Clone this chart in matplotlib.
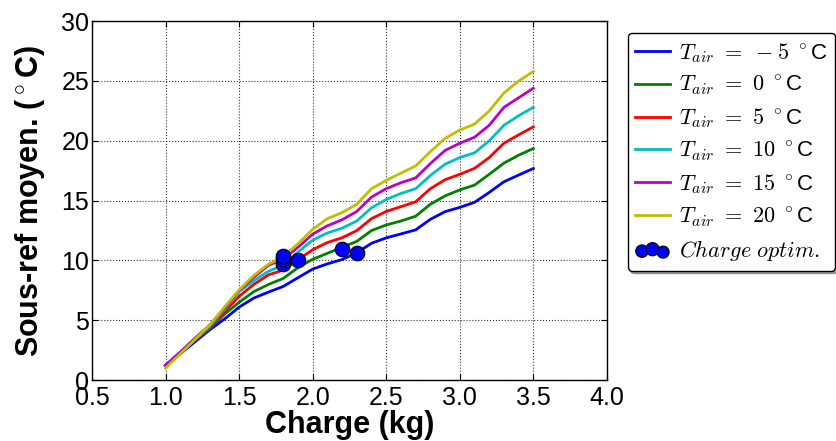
import matplotlib
matplotlib.use("Agg")
import matplotlib.pyplot as plt
import numpy as np

plt.rcParams['font.family'] = ['Liberation Sans', 'DejaVu Sans']
plt.rcParams['mathtext.fontset'] = 'cm'

charge = [1.0, 1.1, 1.2, 1.3, 1.4, 1.5, 1.6, 1.7, 1.8, 1.9, 2.0, 2.1, 2.2,
          2.3, 2.4, 2.5, 2.6, 2.7, 2.8, 2.9, 3.0, 3.1, 3.2, 3.3, 3.4, 3.5]

t_m5 = [1.25, 2.2, 3.2, 4.2, 5.1, 6.1, 6.86, 7.36, 7.83, 8.56, 9.28, 9.72, 10.08,
        10.64, 11.44, 11.89, 12.22, 12.56, 13.44, 14.08, 14.44, 14.86, 15.69, 16.58, 17.14, 17.69]
t_0 = [1.2, 2.25, 3.35, 4.3, 5.5, 6.5, 7.4, 8.0, 8.5, 9.4, 10.1, 10.6, 11.1,
       11.6, 12.5, 12.97, 13.3, 13.7, 14.7, 15.4, 15.9, 16.3, 17.2, 18.14, 18.8, 19.36]
t_5 = [1.2, 2.3, 3.4, 4.4, 5.7, 7.0, 8.0, 8.8, 9.2, 10.05, 10.9, 11.5, 11.9,
       12.5, 13.5, 14.1, 14.5, 14.9, 16.0, 16.75, 17.2, 17.7, 18.6, 19.8, 20.5, 21.17]
t_10 = [1.2, 2.3, 3.45, 4.5, 5.9, 7.4, 8.3, 9.1, 9.6, 10.7, 11.7, 12.3, 12.7,
        13.3, 14.4, 15.1, 15.6, 16.0, 17.1, 18.05, 18.6, 19.0, 20.0, 21.3, 22.1, 22.8]
t_15 = [1.25, 2.35, 3.5, 4.6, 6.0, 7.5, 8.6, 9.6, 10.1, 11.1, 12.2, 12.9, 13.4,
        14.1, 15.3, 16.0, 16.5, 16.9, 18.1, 19.2, 19.8, 20.3, 21.3, 22.8, 23.6, 24.4]
t_20 = [1.0, 2.2, 3.4, 4.6, 6.1, 7.55, 8.75, 9.7, 10.3, 11.4, 12.6, 13.5, 14.0,
        14.7, 16.0, 16.7, 17.3, 17.9, 19.1, 20.2, 20.9, 21.4, 22.5, 24.0, 25.0, 25.8]

temps = [-5, 0, 5, 10, 15, 20]
series = [t_m5, t_0, t_5, t_10, t_15, t_20]
colors = ['b', 'g', 'r', 'c', 'm', 'y']

opt_charge = [2.3, 2.2, 1.9, 1.8, 1.8, 1.8]
opt_value = [10.64, 11.0, 10.0, 9.7, 10.1, 10.4]

xticks = [0.5, 1.0, 1.5, 2.0, 2.5, 3.0, 3.5, 4.0]
yticks = [0, 5, 10, 15, 20, 25, 30]

fig = plt.figure(figsize=(8.36, 4.41), dpi=100)
fig.patch.set_facecolor('white')
ax = fig.add_axes([0.110, 0.138, 0.616, 0.814])

for t, s, c in zip(temps, series, colors):
    ax.plot(charge, s, color=c, lw=2.0, label=r'$T_{air}\ =\ %d\ ^\circ$C' % t)

ax.scatter(opt_charge, opt_value, s=110, c='b', edgecolors='k', linewidths=0.8,
           zorder=5, label=r'$Charge\ optim.$')

ax.set_xlim(0.5, 4.0)
ax.set_ylim(0, 30)
ax.set_xticks(xticks)
ax.set_xticklabels(['%.1f' % v for v in xticks])
ax.set_yticks(yticks)
ax.set_yticklabels([str(v) for v in yticks])
ax.tick_params(direction='in', length=4, width=0.8, labelsize=18, top=True, right=True)
ax.tick_params(axis='y', pad=2)
ax.tick_params(axis='x', pad=4)
ax.grid(True, color='k', linestyle=':', linewidth=0.8, alpha=0.8)
for sp in ax.spines.values():
    sp.set_linewidth(1.0)

ax.set_xlabel('Charge (kg)', fontsize=22, fontweight='bold', labelpad=0)
ax.set_ylabel(r'Sous-ref moyen. ($^\circ$C)', fontsize=22, fontweight='bold', labelpad=10)

leg = ax.legend(loc='upper left', bbox_to_anchor=(1.04, 0.967), borderaxespad=0,
                fontsize=16, scatterpoints=3, fancybox=True, shadow=True,
                handlelength=1.55, handletextpad=0.4, labelspacing=0.42,
                borderpad=0.35, framealpha=1)
leg.get_frame().set_edgecolor('k')
for h in leg.legend_handles:
    if hasattr(h, 'set_sizes'):
        h.set_sizes([80, 90, 75])

fig.savefig('out.png', dpi=100, facecolor='white')
